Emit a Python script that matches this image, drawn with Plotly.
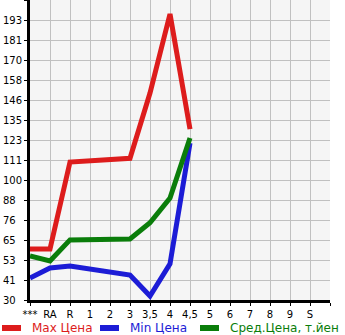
import plotly.graph_objects as go

categories = ["***", "RA", "R", "1", "2", "3", "3,5", "4", "4,5", "5", "6", "7", "8", "9", "S"]
max_price = [59.7, 59.7, 110.3, None, None, 112.5, 150.5, 196.5, 129.5, None, None, None, None, None, None]
min_price = [42.8, 48.6, 49.8, None, None, 44.5, 32.3, 51.0, 121.4, None, None, None, None, None, None]
avg_price = [55.6, 52.7, 65.0, None, None, 65.5, 75.0, 89.4, 124.3, None, None, None, None, None, None]
y_tick_labels = ["30", "41", "53", "65", "76", "88", "100", "111", "123", "135", "146", "158", "170", "181", "193", ""]
series_names = ["Max Цена", "Min Цена", "Сред.Цена, т.йен"]

y_min = 30
y_step = (193 - 30) / 14
y_vals = [y_min + i * y_step for i in range(len(y_tick_labels))]
x_idx = list(range(len(categories)))

# left-align tick labels by padding shorter ones with figure spaces
width_max = max(len(t) for t in y_tick_labels)
y_tick_text = [t + "\u2007" * (width_max - len(t)) if t else "" for t in y_tick_labels]

RED = "#dd1c1c"
BLUE = "#1c1cd6"
GREEN = "#0a7d0a"
colors = [RED, BLUE, GREEN]

fig = go.Figure()
for name, vals, col in zip(series_names, [max_price, min_price, avg_price], colors):
    fig.add_trace(go.Scatter(
        x=x_idx, y=vals, mode="lines", connectgaps=True,
        line=dict(color=col, width=5, shape="linear"),
        name=name, showlegend=False,
    ))

# manual legend (pixel positions converted to paper coords; plot area 30..330 x 0..300)
def px_x(px):
    return (px - 30) / 300.0

def px_y(py):
    return (300 - py) / 300.0

leg_y = 328
seg_starts = [0, 98, 198]
for start, name, col in zip(seg_starts, series_names, colors):
    fig.add_shape(type="line", xref="paper", yref="paper",
                  x0=px_x(start + 2), x1=px_x(start + 21), y0=px_y(leg_y), y1=px_y(leg_y),
                  line=dict(color=col, width=6), layer="above")
    fig.add_annotation(xref="paper", yref="paper", x=px_x(start + 30), y=px_y(leg_y),
                       xanchor="left", yanchor="middle", showarrow=False,
                       text=name, font=dict(size=12, color=col, family="DejaVu Sans"))

fig.update_layout(
    width=345, height=335,
    margin=dict(l=30, r=15, t=0, b=35, autoexpand=False),
    paper_bgcolor="white", plot_bgcolor="#f5f5f5",
    font=dict(family="DejaVu Sans", size=10, color="black"),
    showlegend=False,
)
fig.update_xaxes(
    range=[0, 15], tickmode="array", tickvals=list(range(16)),
    ticktext=categories + [""], showgrid=True, gridcolor="#c0c0c0", gridwidth=1,
    showline=True, linecolor="black", linewidth=3, ticks="outside", ticklen=3,
    tickcolor="black", tickwidth=1, zeroline=False, fixedrange=True,
    tickfont=dict(size=10), automargin=False,
)
fig.update_yaxes(
    range=[y_vals[0], y_vals[-1]], tickmode="array", tickvals=y_vals,
    ticktext=y_tick_text, showgrid=True, gridcolor="#c0c0c0", gridwidth=1,
    showline=True, linecolor="black", linewidth=3, ticks="outside", ticklen=3,
    tickcolor="black", tickwidth=1, zeroline=False, fixedrange=True,
    tickfont=dict(size=10), automargin=False,
)
fig.write_html("out.html", config={"displayModeBar": False})
